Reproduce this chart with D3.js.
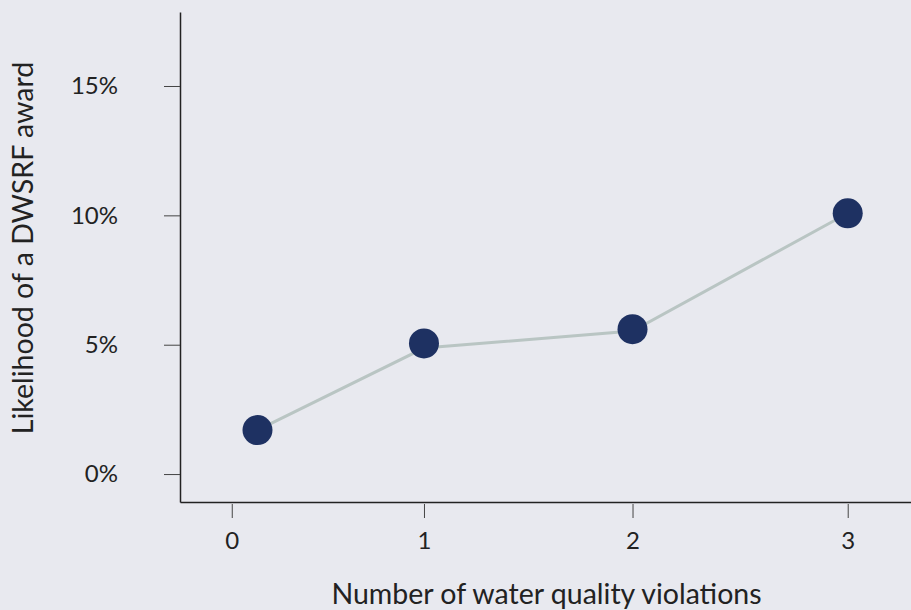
<!DOCTYPE html>
<html>
<head>
<meta charset="utf-8">
<script src="https://cdn.jsdelivr.net/npm/d3@7"></script>
<style>
  html, body { margin: 0; padding: 0; background: #e8e9ef; }
  svg { display: block; }
  text { font-family: Lato, "Open Sans", sans-serif; fill: #222; }
</style>
</head>
<body>
<svg id="chart" width="911" height="610"></svg>
<script>
// Data
const violations = [0.15, 1, 2, 3];          // x position of each point
const likelihood = [1.70, 5.05, 5.60, 10.08]; // % likelihood (dots)
const lineLikelihood = [1.70, 4.87, 5.53, 10.08]; // % likelihood (connecting line)
const xTicks = [0, 1, 2, 3];
const yTicks = [0, 5, 10, 15];
const xTitle = "Number of water quality violations";
const yTitle = "Likelihood of a DWSRF award";

(function () {
const svg = d3.select("#chart");
const mLeft = 180, mRight = 911, mTop = 12, mBottom = 502;

const x = d3.scalePow().exponent(1.06).domain([-0.29, 3.29]).range([mLeft, mRight]);
const y = d3.scaleLinear().domain([-1.08, 17.86]).range([mBottom, mTop]);

// Y axis
const yAxis = svg.append("g")
  .attr("transform", `translate(${mLeft},0)`)
  .call(d3.axisLeft(y).tickValues(yTicks).tickFormat(d => d + "%").tickSize(16).tickPadding(46).tickSizeOuter(0));
yAxis.select(".domain").attr("stroke", "#222").attr("stroke-width", 1.5);
yAxis.selectAll(".tick line").attr("stroke", "#444").attr("stroke-width", 1);
yAxis.selectAll(".tick text").style("font-size", "24px").attr("fill", "#222");

// X axis
const xAxis = svg.append("g")
  .attr("transform", `translate(0,${mBottom})`)
  .call(d3.axisBottom(x).tickValues(xTicks).tickFormat(d3.format("d")).tickSize(16).tickPadding(14).tickSizeOuter(0));
xAxis.select(".domain").attr("stroke", "#222").attr("stroke-width", 1.5);
xAxis.selectAll(".tick line").attr("stroke", "#444").attr("stroke-width", 1).attr("y1", 2);
xAxis.selectAll(".tick text").style("font-size", "24px").attr("fill", "#222");

// Line
const pts = violations.map((v, i) => [v, lineLikelihood[i]]);
svg.append("path")
  .datum(pts)
  .attr("fill", "none")
  .attr("stroke", "#b9c5c3")
  .attr("stroke-width", 3)
  .attr("d", d3.line().x(d => x(d[0])).y(d => y(d[1])));

// Dots
svg.selectAll("circle.dot")
  .data(violations.map((v, i) => [v, likelihood[i]]))
  .join("circle")
  .attr("class", "dot")
  .attr("cx", d => x(d[0]))
  .attr("cy", d => y(d[1]))
  .attr("r", 15)
  .attr("fill", "#1e3162");

// Titles
svg.append("text")
  .attr("x", 546.5)
  .attr("y", 604)
  .attr("text-anchor", "middle")
  .style("font-size", "28.5px")
  .text(xTitle);

svg.append("text")
  .attr("transform", "translate(33,248) rotate(-90)")
  .attr("text-anchor", "middle")
  .style("font-size", "28.5px")
  .text(yTitle);
})();
</script>
</body>
</html>
